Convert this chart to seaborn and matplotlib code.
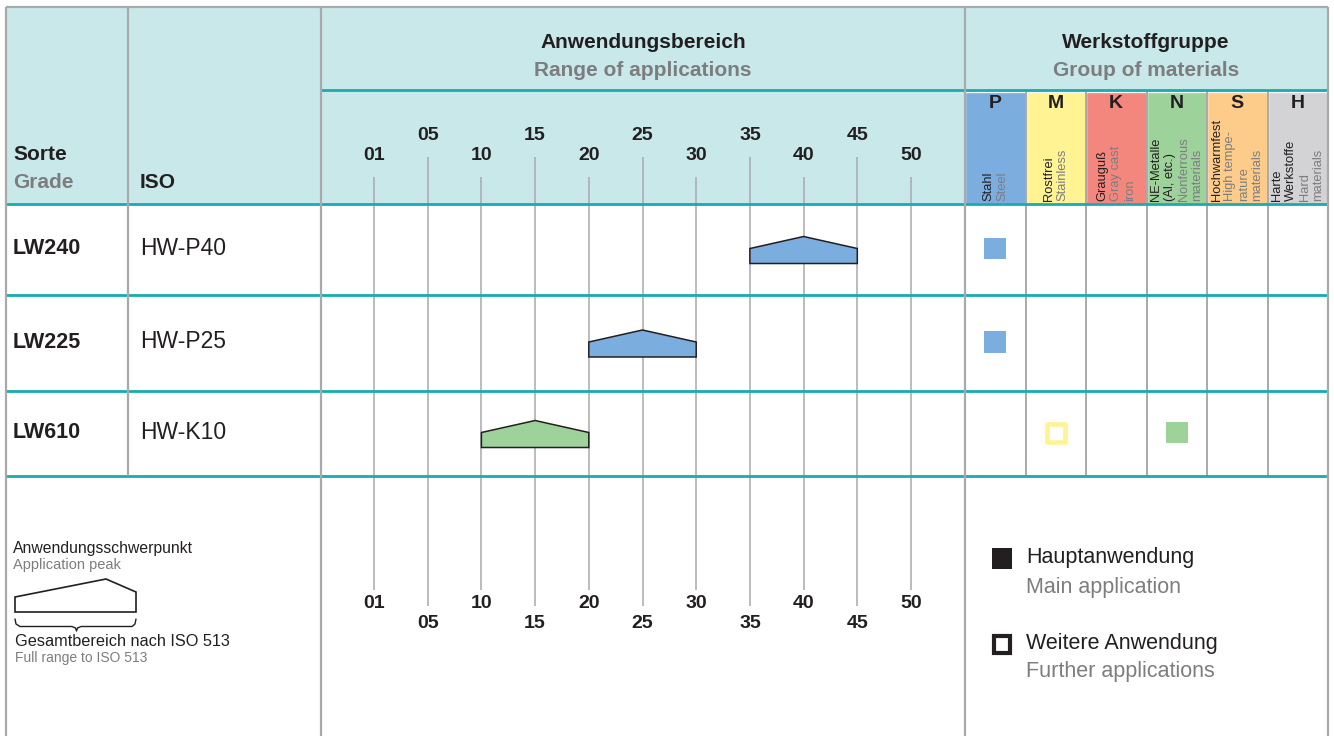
import matplotlib
matplotlib.use("Agg")
import numpy as np
import matplotlib.pyplot as plt
from matplotlib.patches import Rectangle, Polygon
import seaborn as sns

# Sorten und ISO-Zuordnung
grades = ["LW240", "LW225", "LW610"]
iso_codes = ["HW-P40", "HW-P25", "HW-K10"]

# Anwendungsbereich nach ISO 513 (Beginn, Schwerpunkt, Ende)
range_start = [35, 20, 10]
range_peak = [40, 25, 15]
range_end = [45, 30, 20]

class_values = [1, 5, 10, 15, 20, 25, 30, 35, 40, 45, 50]
class_labels = ["01", "05", "10", "15", "20", "25", "30", "35", "40", "45", "50"]

# Werkstoffgruppen
materials = ["P", "M", "K", "N", "S", "H"]
material_de = [["Stahl"], ["Rostfrei"], ["Grauguß"], ["NE-Metalle", "(Al, etc.)"],
               ["Hochwarmfest"], ["Harte", "Werkstoffe"]]
material_en = [["Steel"], ["Stainless"], ["Gray cast", "iron"], ["Nonferrous", "materials"],
               ["High tempe-", "rature", "materials"], ["Hard", "materials"]]

# Haupt- und weitere Anwendung
main_grade = ["LW240", "LW225", "LW610"]
main_material = ["P", "P", "N"]
further_grade = ["LW610"]
further_material = ["M"]

# Stil
DARK = "#231f20"
GREY_TXT = "#7d7d7f"
LINE = "#a9a9ad"
TEAL = "#17acae"
HEAD_BG = "#c9e8ea"
material_colors = {"P": "#7badde", "M": "#fff394", "K": "#f4877d",
                   "N": "#9dd39b", "S": "#fdcc8b", "H": "#d3d3d5"}

W, H = 1334, 736
row_y = [204, 295, 391, 476]
row_mid = [(row_y[i] + row_y[i + 1]) / 2 for i in range(3)]

sns.set_theme(style="white")
plt.rcParams["font.family"] = ["Liberation Sans", "DejaVu Sans"]

fig = plt.figure(figsize=(W / 100, H / 100), dpi=100)


def px_axes(x0, x1, label):
    ax = fig.add_axes([x0 / W, 0, (x1 - x0) / W, 1], label=label)
    ax.patch.set_alpha(0)
    ax.axis("off")
    return ax


# Hintergrund Kopfzeile
bg = px_axes(0, W, "bg")
bg.add_patch(Rectangle((6, 7), 1322, 197, facecolor=HEAD_BG, edgecolor="none"))
bg.set_xlim(0, W)
bg.set_ylim(H, 0)

# Werkstoffgruppen-Spalten
ax_m = px_axes(965, 1328, "materials")
ax_m.bar(range(len(materials)), 112, bottom=91.5, width=1,
         color=[material_colors[m] for m in materials])
ax_m.vlines(np.arange(0.5, len(materials) - 0.5, 1), 90, 476, color=LINE, lw=1.4)
for i, m in enumerate(materials):
    ax_m.text(i, 103, m, ha="center", va="center", fontsize=14,
              fontweight="bold", color=DARK)
    lines = material_de[i] + material_en[i]
    n = len(lines)
    for k, line in enumerate(lines):
        x = i + (k - (n - 1) / 2) * 13.6 / 60.5
        ax_m.text(x, 201, line, rotation=90, ha="center", va="bottom", fontsize=9.3,
                  color=DARK if k < len(material_de[i]) else GREY_TXT, linespacing=1)

rows = [grades.index(g) for g in main_grade]
sns.scatterplot(x=[materials.index(m) for m in main_material],
                y=[row_mid[r] - 1 for r in rows],
                hue=main_material, palette=material_colors, marker="s", s=250,
                linewidth=0, legend=False, ax=ax_m)
rows_f = [grades.index(g) for g in further_grade]
sns.scatterplot(x=[materials.index(m) for m in further_material],
                y=[row_mid[r] - 1 for r in rows_f],
                marker="s", s=159, color="white",
                edgecolor=[material_colors[m] for m in further_material],
                linewidth=3.3, ax=ax_m)
ax_m.set_xlim(-0.5, len(materials) - 0.5)
ax_m.set_ylim(H, 0)
ax_m.axis("off")

# Anwendungsbereich
ax_r = px_axes(321, 965, "range")
for i, lab in enumerate(class_labels):
    even = i % 2 == 0
    ax_r.vlines(i, 177 if even else 157, 590 if even else 606, color=LINE, lw=1.1)
    ax_r.text(i, 155 if even else 136, lab, ha="center", va="center",
              fontsize=14, fontweight="bold", color=DARK)
    ax_r.text(i, 603 if even else 623, lab, ha="center", va="center",
              fontsize=14, fontweight="bold", color=DARK)

for r, g in enumerate(grades):
    x0 = class_values.index(range_start[r])
    xp = class_values.index(range_peak[r])
    x1 = class_values.index(range_end[r])
    c = row_mid[r]
    col = material_colors[main_material[main_grade.index(g)]]
    ax_r.fill([x0, x0, xp, x1, x1], [c + 14, c - 1, c - 13, c - 1, c + 14],
              facecolor=col, edgecolor=DARK, lw=1.1, zorder=3)
ax_r.set_xlim(-53 / 53.7, 591 / 53.7)
ax_r.set_ylim(H, 0)

# Tabellenlinien und Beschriftung
top = px_axes(0, W, "top")
top.hlines(90, 321, 1328, color=TEAL, lw=2)
top.hlines(row_y, 6, 1328, color=TEAL, lw=2)
top.hlines(7, 6, 1328, color=LINE, lw=1.6)
top.vlines([6, 321, 965, 1328], 7, 736, color=LINE, lw=1.6)
top.vlines(128, 7, 476, color=LINE, lw=1.6)

bold = dict(fontweight="bold", fontsize=15, va="center")
top.text(13, 155, "Sorte", color=DARK, **bold)
top.text(13, 183, "Grade", color=GREY_TXT, **bold)
top.text(140, 183, "ISO", color=DARK, **bold)
top.text(643, 42, "Anwendungsbereich", color=DARK, ha="center", **bold)
top.text(643, 70, "Range of applications", color=GREY_TXT, ha="center", **bold)
top.text(1146, 42, "Werkstoffgruppe", color=DARK, ha="center", **bold)
top.text(1146, 70, "Group of materials", color=GREY_TXT, ha="center", **bold)

for r, g in enumerate(grades):
    top.text(13, row_mid[r] - 1, g, color=DARK, fontweight="bold", fontsize=15.5,
             va="center")
    top.text(140, row_mid[r] - 1, iso_codes[r], color=DARK, fontsize=16.5, va="center")

# Legende links
top.text(13, 549, "Anwendungsschwerpunkt", fontsize=11.3, color=DARK, va="center")
top.text(13, 565, "Application peak", fontsize=10.5, color=GREY_TXT, va="center")
top.add_patch(Polygon([(15, 612), (15, 597), (106, 579), (136, 592), (136, 612)],
                      closed=True, facecolor="white", edgecolor=DARK, lw=1.2))
top.plot([15, 16, 20, 72, 75.5, 76.5, 77.5, 81, 132, 135, 136],
         [619, 624, 626.5, 626.5, 628, 631, 628, 626.5, 626.5, 624, 619],
         color=DARK, lw=1)
top.text(15, 641, "Gesamtbereich nach ISO 513", fontsize=11.7, color=DARK, va="center")
top.text(15, 658, "Full range to ISO 513", fontsize=10, color=GREY_TXT, va="center")

# Legende rechts
top.add_patch(Rectangle((992, 548), 20, 21, facecolor=DARK, edgecolor="none"))
top.add_patch(Rectangle((994, 636), 16, 17, facecolor="white", edgecolor=DARK, lw=3))
top.text(1026, 558, "Hauptanwendung", fontsize=15.5, color=DARK, va="center")
top.text(1026, 587, "Main application", fontsize=15.5, color=GREY_TXT, va="center")
top.text(1026, 644, "Weitere Anwendung", fontsize=15.5, color=DARK, va="center")
top.text(1026, 672, "Further applications", fontsize=15.5, color=GREY_TXT, va="center")

top.set_xlim(0, W)
top.set_ylim(H, 0)

fig.savefig("out.png", dpi=100, facecolor="white")
